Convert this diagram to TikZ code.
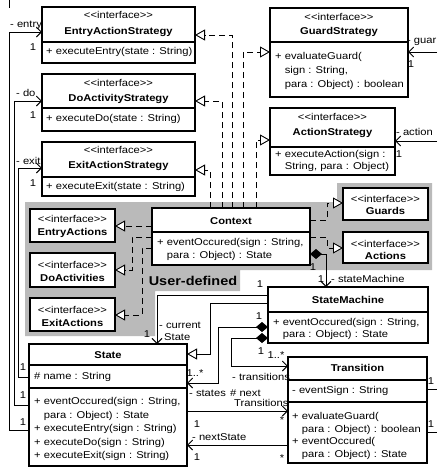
\documentclass[tikz,border=0pt]{standalone}
\usepackage{fontspec}
\newfontfamily\umlfont{Liberation Sans}[FakeStretch=1.13]
\usetikzlibrary{arrows.meta}
\newcommand\ifcst{<\kern0pt<interface>\kern0pt>}

\tikzset{
  cls/.style={draw, fill=white, line width=1.1pt, anchor=north west,
              inner sep=0pt, outer sep=0pt},
  ifcbox/.style={cls, line width=1.7pt},
  divider/.style={line width=1.1pt},
  txt/.style={inner sep=0pt, align=left, anchor=west,
              font=\umlfont\fontsize{9.9}{#1}\selectfont},
  txt/.default=12,
  ctxt/.style={txt=#1, align=center, anchor=center},
  ctxt/.default=12,
  lbl/.style={inner sep=0pt, font=\umlfont\fontsize{9.9}{11}\selectfont},
  conn/.style={line width=0.9pt},
  real/.style={conn, dash pattern=on 6pt off 4pt,
               -{Triangle[length=10pt, width=11pt, fill=white]}},
  gen/.style={conn, -{Triangle[length=10pt, width=11pt, fill=white]}},
  nav/.style={conn, -{Straight Barb[length=5pt, width=10pt]}},
  comp/.style={conn, {Diamond[length=12pt, width=10pt]}-{Straight Barb[length=5pt, width=10pt]}},
  region/.style={fill=black!27, draw=none},
}

\begin{document}
\begin{tikzpicture}[x=1pt, y=-1pt]
\useasboundingbox (0,0) rectangle (437,469);
\clip (0,0) rectangle (437,469);

% user-defined area
\fill[region] (25,202) -- (337,202) -- (337,183) -- (432,183) -- (432,270)
  -- (240,270) -- (240,291) -- (155,291) -- (155,336) -- (25,336) -- cycle;
\node[inner sep=0pt, font=\umlfont\bfseries\fontsize{12.8}{14}\selectfont] (udl) at (193,281) {User-defined};

% strategy interfaces
\node[cls, minimum width=153pt, minimum height=56pt] (eas) at (42,7) {};
\draw[divider] (eas.west |- 0,42) -- (eas.east |- 0,42);
\node[ctxt=16] (eas-h) at (118.5,24) {\ifcst\\\textbf{EntryActionStrategy}};
\node[txt] (eas-b) at (46,52) {+ executeEntry(state : String)};

\node[cls, minimum width=153pt, minimum height=57pt] (das) at (42,74) {};
\draw[divider] (das.west |- 0,108) -- (das.east |- 0,108);
\node[ctxt=15] (das-h) at (118.5,91.5) {\ifcst\\\textbf{DoActivityStrategy}};
\node[txt] (das-b) at (46,119) {+ executeDo(state : String)};

\node[cls, minimum width=153pt, minimum height=54pt] (xas) at (42,142) {};
\draw[divider] (xas.west |- 0,177) -- (xas.east |- 0,177);
\node[ctxt=15] (xas-h) at (118.5,158.5) {\ifcst\\\textbf{ExitActionStrategy}};
\node[txt] (xas-b) at (46,187) {+ executeExit(state : String)};

\node[cls, minimum width=138pt, minimum height=89pt] (gs) at (270,8) {};
\draw[divider] (gs.west |- 0,42) -- (gs.east |- 0,42);
\node[ctxt=14] (gs-h) at (339,25) {\ifcst\\\textbf{GuardStrategy}};
\node[txt=14] (gs-b) at (275,71) {+ evaluateGuard(\\\hphantom{+ }sign : String,\\\hphantom{+ }para : Object) : boolean};

\node[cls, minimum width=125pt, minimum height=67pt] (as) at (270,108) {};
\draw[divider] (as.west |- 0,147) -- (as.east |- 0,147);
\node[ctxt=15] (as-h) at (332.5,125.5) {\ifcst\\\textbf{ActionStrategy}};
\node[txt=12] (as-b) at (275,161) {+ executeAction(sign :\\\hphantom{+ }String, para : Object)};

% context
\node[cls, minimum width=158pt, minimum height=57pt] (ctx) at (152,208) {};
\draw[divider] (ctx.west |- 0,232) -- (ctx.east |- 0,232);
\node[ctxt] (ctx-h) at (231,221) {\textbf{Context}};
\node[txt=13] (ctx-b) at (157,249.5) {+ eventOccured(sign : String,\\\hphantom{+ }para : Object) : State};

% user-defined interfaces
\node[ifcbox, minimum width=85pt, minimum height=33pt] (ea) at (30,209) {};
\node[ctxt=13] (ea-h) at (72.5,226) {\ifcst\\\textbf{EntryActions}};
\node[ifcbox, minimum width=85pt, minimum height=34pt] (da) at (30,253) {};
\node[ctxt=13] (da-h) at (72.5,271) {\ifcst\\\textbf{DoActivities}};
\node[ifcbox, minimum width=85pt, minimum height=33pt] (xa) at (30,298) {};
\node[ctxt=13] (xa-h) at (72.5,316) {\ifcst\\\textbf{ExitActions}};
\node[ifcbox, minimum width=85pt, minimum height=32pt] (gd) at (343,188) {};
\node[ctxt=12] (gd-h) at (385.5,205) {\ifcst\\\textbf{Guards}};
\node[ifcbox, minimum width=85pt, minimum height=31pt] (ac) at (343,232) {};
\node[ctxt=12] (ac-h) at (385.5,250) {\ifcst\\\textbf{Actions}};

% state machine
\node[cls, minimum width=160pt, minimum height=56pt] (sm) at (268,287) {};
\draw[divider] (sm.west |- 0,312) -- (sm.east |- 0,312);
\node[ctxt] (sm-h) at (348,300) {\textbf{StateMachine}};
\node[txt=12] (sm-b) at (273,329) {+ eventOccured(sign : String,\\\hphantom{+ }para : Object) : State};

% state
\node[cls, minimum width=158pt, minimum height=122pt] (st) at (29,344) {};
\draw[divider] (st.west |- 0,365) -- (st.east |- 0,365);
\draw[divider] (st.west |- 0,388) -- (st.east |- 0,388);
\node[ctxt] (st-h) at (108,355) {\textbf{State}};
\node[txt] (st-a) at (34,377) {\# name : String};
\node[txt=13.5] (st-b) at (34,429) {+ eventOccured(sign : String,\\\hphantom{+ }para : Object) : State\\+ executeEntry(sign : String)\\+ executeDo(sign : String)\\+ executeExit(sign : String)};

% transition
\node[cls, minimum width=139pt, minimum height=106pt] (tr) at (288,357) {};
\draw[divider] (tr.west |- 0,380) -- (tr.east |- 0,380);
\draw[divider] (tr.west |- 0,402) -- (tr.east |- 0,402);
\node[ctxt] (tr-h) at (357.5,368) {\textbf{Transition}};
\node[txt] (tr-a) at (292,391) {- eventSign : String};
\node[txt=12.7] (tr-b) at (292,436) {+ evaluateGuard(\\\hphantom{+ }para : Object) : boolean\\+ eventOccured(\\\hphantom{+ }para : Object) : State};

% realizations of the context
\draw[real] (232,0 |- ctx.north) |- (eas.east |- 0,35);
\draw[real] (222,0 |- ctx.north) |- (das.east |- 0,101);
\draw[real] (210,0 |- ctx.north) |- (xas.east |- 0,170);
\draw[real] (243,0 |- ctx.north) |- (gs.west |- 0,52);
\draw[real] (256,0 |- ctx.north) |- (as.west |- 0,140);
\draw[real] (ctx.west |- 0,226) -- (ea.east |- 0,226);
\draw[real] (ctx.west |- 0,237) -| (132,270) -- (da.east |- 0,270);
\draw[real] (ctx.west |- 0,248) -| (142,315) -- (xa.east |- 0,315);
\draw[real] (ctx.east |- 0,220) -| (327,203) -- (gd.west |- 0,203);
\draw[real] (ctx.east |- 0,237) -| (327,248) -- (ac.west |- 0,248);

% context owns the state machine
\draw[comp] (ctx.east |- 0,254) -| (326,0 |- sm.north);

% state machine relations
\draw[nav] (sm.west |- 0,295) -| (157,0 |- st.north);
\draw[gen] (sm.west |- 0,303) -| (210,354) -- (st.east |- 0,354);
\draw[comp] (sm.west |- 0,327) -| (218,383) -- (st.east |- 0,383);
\draw[comp] (sm.west |- 0,338) -| (231,366) -- (tr.west |- 0,366);

% state and transition
\draw[nav] (st.east |- 0,411) -- (tr.west |- 0,411);
\draw[nav] (tr.west |- 0,445) -- (st.east |- 0,445);

% state uses the strategies
\draw[nav] (st.west |- 0,377) -| (18,168) -- (xas.west |- 0,168);
\draw[nav] (st.west |- 0,405) -| (14,101) -- (das.west |- 0,101);
\draw[nav] (st.west |- 0,430) -| (9,32) -- (eas.west |- 0,32);
\coordinate (topcut) at (9,0);
\draw[conn] (topcut) -- (9,8);

% links leaving the sheet
\coordinate (gcut) at (437,52);
\draw[nav] (gcut) -- (gs.east |- gcut);
\coordinate (acut) at (437,141);
\draw[nav] (acut) -- (as.east |- acut);
\coordinate (tcut1) at (437,389);
\draw[conn] (tr.east |- tcut1) -- (tcut1);
\coordinate (tcut2) at (437,432);
\draw[conn] (tr.east |- tcut2) -- (tcut2);

% role names and multiplicities
\node[lbl, anchor=west] (l1) at (10,25) {- entry};
\node[lbl] (l2) at (33,47) {1};
\node[lbl, anchor=west] (l3) at (16,93) {- do};
\node[lbl] (l4) at (33,115) {1};
\node[lbl, anchor=west] (l5) at (16,161) {- exit};
\node[lbl] (l6) at (33,183) {1};
\node[lbl, anchor=east] (l7) at (436.5,42) {- guar};
\node[lbl] (l8) at (411,64) {1};
\node[lbl, anchor=west] (l9) at (396,132) {- action};
\node[lbl] (l10) at (399,154) {1};
\node[lbl] (l11) at (313,267) {1};
\node[lbl] (l12) at (321,279) {1};
\node[lbl, anchor=west] (l13) at (331,279) {- stateMachine};
\node[lbl] (l14) at (260,284) {1};
\node[lbl] (l15) at (147,334) {1};
\node[lbl, anchor=west] (l16) at (159,325) {- current};
\node[lbl, anchor=west] (l17) at (164,337) {State};
\node[lbl] (l18) at (259,316) {1};
\node[lbl] (l19) at (261,351) {1};
\node[lbl] (l20) at (276,355) {1..*};
\node[lbl, anchor=west] (l21) at (232,377) {- transitions};
\node[lbl] (l22) at (195,373) {1..*};
\node[lbl, anchor=west] (l23) at (189,393) {- states};
\node[lbl, anchor=west] (l24) at (230,393) {\# next};
\node[lbl, anchor=west] (l25) at (234,403) {Transitions};
\node[lbl] (l26) at (282,420) {*};
\node[lbl] (l27) at (197,424) {1};
\node[lbl, anchor=west] (l28) at (192,437) {- nextState};
\node[lbl] (l29) at (197,457) {1};
\node[lbl] (l30) at (282,458) {*};
\node[lbl] (l31) at (23,367) {1};
\node[lbl] (l32) at (23,395) {1};
\node[lbl] (l33) at (23,422) {1};
\node[lbl] (l34) at (431,381) {1};
\node[lbl] (l35) at (431,424) {1};
\end{tikzpicture}
\end{document}
